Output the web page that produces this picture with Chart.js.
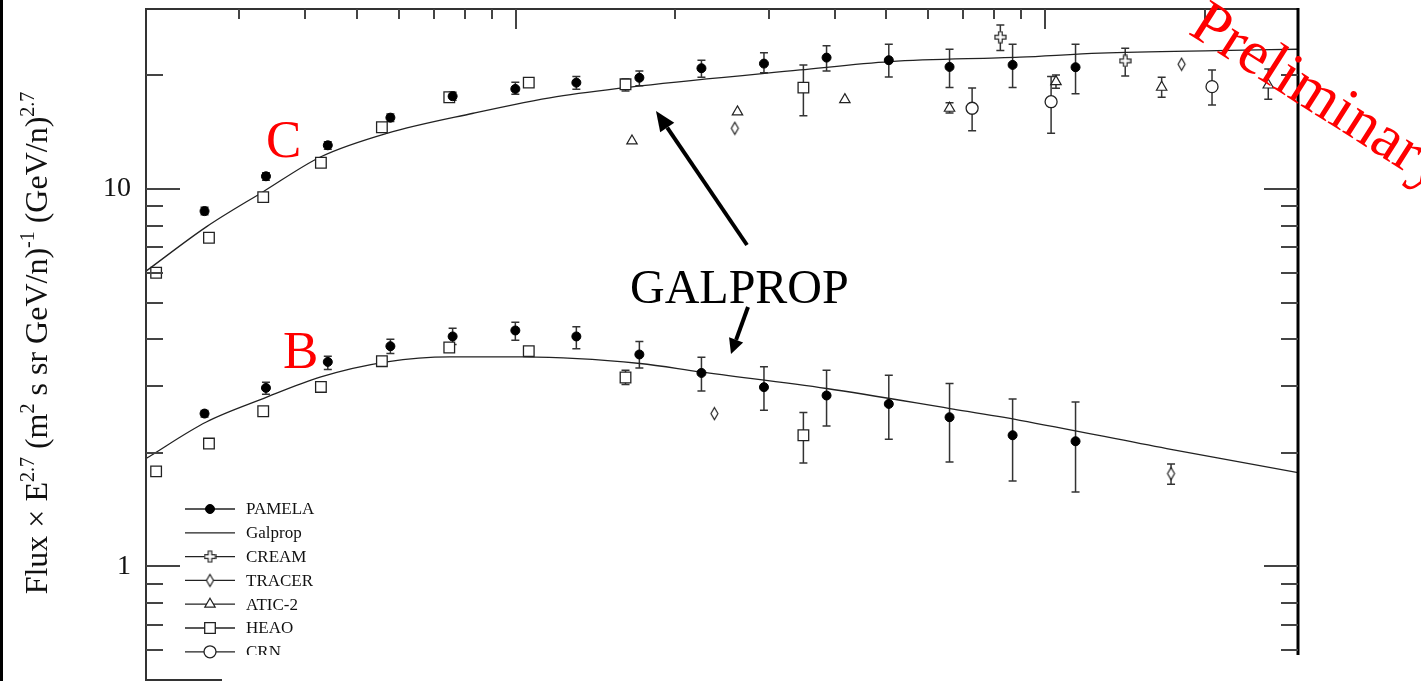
<!DOCTYPE html>
<html>
<head>
<meta charset="utf-8">
<script src="https://cdn.jsdelivr.net/npm/chart.js@4.4.0/dist/chart.umd.min.js"></script>
<style>
  html, body { margin: 0; padding: 0; background: #fff; }
  #wrap { position: relative; width: 1421px; height: 681px; }
</style>
</head>
<body>
<div id="wrap"><canvas id="chart"></canvas></div>
<script>
// kinetic energy in GeV/n, values are Flux x E^2.7
const pamelaE = [2.58, 3.37, 4.41, 5.79, 7.59, 9.97, 13.0, 17.1, 22.4, 29.4, 38.6, 50.6, 65.9, 86.7, 114];
const pamelaC = [8.74, 10.81, 13.06, 15.46, 17.62, 18.42, 19.14, 19.72, 20.90, 21.50, 22.30, 21.95, 21.07, 21.33, 21.03];
const pamelaCLo = [8.55, 10.55, 12.75, 15.1, 17.2, 17.83, 18.39, 18.79, 19.79, 20.34, 20.56, 19.82, 18.57, 18.57, 17.89];
const pamelaCHi = [8.95, 11.05, 13.35, 15.8, 18.05, 19.19, 19.86, 20.56, 21.95, 22.98, 23.99, 24.20, 23.47, 24.20, 24.20];
const pamelaB = [2.541, 2.972, 3.483, 3.833, 4.068, 4.219, 4.068, 3.644, 3.256, 2.985, 2.837, 2.695, 2.485, 2.226, 2.146];
const pamelaBLo = [2.49, 2.858, 3.325, 3.666, 3.874, 3.977, 3.771, 3.357, 2.917, 2.593, 2.356, 2.172, 1.891, 1.684, 1.575];
const pamelaBHi = [2.59, 3.076, 3.606, 4.001, 4.279, 4.438, 4.313, 3.945, 3.584, 3.379, 3.311, 3.212, 3.052, 2.778, 2.728];

const heaoE = [2.09, 2.63, 3.33, 4.28, 5.58, 7.48, 10.57, 16.1, 34.9];
const heaoC = [6.00, 7.43, 9.52, 11.74, 14.58, 17.51, 19.14, 18.95, 18.57];
const heaoCLo = [null, null, null, null, null, null, null, 18.2, 15.64];
const heaoCHi = [null, null, null, null, null, null, null, 19.58, 21.33];
const heaoB = [1.786, 2.116, 2.577, 2.989, 3.498, 3.803, 3.718, 3.167, 2.226];
const heaoBLo = [null, null, null, null, null, null, null, 3.034, 1.879];
const heaoBHi = [null, null, null, null, null, null, null, 3.311, 2.557];

const aticE = [16.56, 26.2, 41.8, 65.9, 104.7, 165.8, 263.6];
const aticC = [13.41, 16.01, 17.26, 16.37, 19.26, 18.61, 18.87];
const aticCLo = [null, null, null, 15.9, 18.50, 17.51, 17.30];
const aticCHi = [null, null, null, 16.94, 20.06, 19.79, 20.81];

const tracerCE = [25.9, 180.8];
const tracerC = [14.49, 21.42];
const tracerBE = [23.7, 172.7];
const tracerB = [2.541, 1.762];
const tracerBLo = [null, 1.650];
const tracerBHi = [null, 1.868];

const creamE = [82.2, 141.5];
const creamC = [25.26, 21.86];
const creamCLo = [23.28, 19.94];
const creamCHi = [27.19, 23.61];

const crnE = [72.7, 102.5, 206.4];
const crnC = [16.37, 17.04, 18.68];
const crnCLo = [14.28, 14.05, 16.71];
const crnCHi = [18.53, 19.86, 20.68];

const galpropCE = [2, 2.6, 3.33, 4.28, 5.7, 8.3, 11.94, 17.15, 34.4, 50.9, 89.5, 126.8, 210.7, 300];
const galpropC = [6.06, 7.94, 9.84, 12.18, 14.05, 15.88, 17.58, 18.76, 20.68, 21.77, 22.36, 22.91, 23.28, 23.47];
const galpropBE = [2, 2.6, 3.33, 4.28, 5.7, 7.5, 10.32, 17.15, 22.25, 38.6, 66, 89.5, 169.5, 300];
const galpropB = [1.931, 2.414, 2.785, 3.178, 3.483, 3.591, 3.591, 3.449, 3.276, 2.961, 2.620, 2.439, 2.052, 1.772];

const legendNames = ['PAMELA', 'Galprop', 'CREAM', 'TRACER', 'ATIC-2', 'HEAO', 'CRN'];
const yLabelTicks = [1, 10];
const yMinorTicks = [0.6, 0.7, 0.8, 0.9, 2, 3, 4, 5, 6, 7, 8, 9, 20];
const xMajorTicks = [10, 100];
const xMinorTicks = [3, 4, 5, 6, 7, 8, 9, 20, 30, 40, 50, 60, 70, 80, 90, 200];

const FONT = "'Liberation Serif', 'Times New Roman', serif";
const INK = '#222';

function xy(xs, ys) { return xs.map((x, i) => ({ x: x, y: ys[i] })); }

function makeDiamond() {
  const c = document.createElement('canvas');
  c.width = 11; c.height = 15;
  const g = c.getContext('2d');
  g.beginPath();
  g.moveTo(5.5, 1.5); g.lineTo(9, 7.5); g.lineTo(5.5, 13.5); g.lineTo(2, 7.5);
  g.closePath();
  g.fillStyle = '#fff'; g.fill();
  g.lineWidth = 1.2; g.strokeStyle = INK; g.stroke();
  return c;
}

function makeCross() {
  const c = document.createElement('canvas');
  c.width = 13; c.height = 13;
  const g = c.getContext('2d');
  const m = 6.5, a = 1.8, lo = 1, hi = 12;
  g.beginPath();
  g.moveTo(m - a, lo); g.lineTo(m + a, lo); g.lineTo(m + a, m - a); g.lineTo(hi, m - a);
  g.lineTo(hi, m + a); g.lineTo(m + a, m + a); g.lineTo(m + a, hi); g.lineTo(m - a, hi);
  g.lineTo(m - a, m + a); g.lineTo(lo, m + a); g.lineTo(lo, m - a); g.lineTo(m - a, m - a);
  g.closePath();
  g.fillStyle = '#fff'; g.fill();
  g.lineWidth = 1.2; g.strokeStyle = INK; g.stroke();
  return c;
}

const diamond = makeDiamond();
const cross = makeCross();

const STYLE = {
  'PAMELA': { pointStyle: 'circle', pointRadius: 4.5, backgroundColor: '#000', borderColor: '#000', borderWidth: 1 },
  'CREAM': { pointStyle: cross, pointRadius: 6, backgroundColor: '#fff', borderColor: INK, borderWidth: 1.2 },
  'TRACER': { pointStyle: diamond, pointRadius: 6, backgroundColor: '#fff', borderColor: INK, borderWidth: 1.2 },
  'ATIC-2': { pointStyle: 'triangle', pointRadius: 6, backgroundColor: '#fff', borderColor: INK, borderWidth: 1.2 },
  'HEAO': { pointStyle: 'rect', pointRadius: 7.5, backgroundColor: '#fff', borderColor: INK, borderWidth: 1.3 },
  'CRN': { pointStyle: 'circle', pointRadius: 6, backgroundColor: '#fff', borderColor: INK, borderWidth: 1.3 },
};

function points(label, xs, ys, lo, hi) {
  return Object.assign({ label: label, data: xy(xs, ys), showLine: false, errLo: lo, errHi: hi }, STYLE[label]);
}

function curve(xs, ys) {
  return {
    label: 'Galprop', data: xy(xs, ys), showLine: true, pointRadius: 0,
    borderColor: INK, borderWidth: 1.3, cubicInterpolationMode: 'monotone'
  };
}

const datasets = [
  points('PAMELA', pamelaE, pamelaC, pamelaCLo, pamelaCHi),
  points('PAMELA', pamelaE, pamelaB, pamelaBLo, pamelaBHi),
  points('CREAM', creamE, creamC, creamCLo, creamCHi),
  points('TRACER', tracerCE, tracerC, null, null),
  points('TRACER', tracerBE, tracerB, tracerBLo, tracerBHi),
  points('ATIC-2', aticE, aticC, aticCLo, aticCHi),
  points('HEAO', heaoE, heaoC, heaoCLo, heaoCHi),
  points('HEAO', heaoE, heaoB, heaoBLo, heaoBHi),
  points('CRN', crnE, crnC, crnCLo, crnCHi),
  curve(galpropCE, galpropC),
  curve(galpropBE, galpropB),
];

const errorBars = {
  id: 'errorBars',
  beforeDatasetsDraw(chart) {
    const { ctx, scales: { x, y } } = chart;
    ctx.save();
    ctx.strokeStyle = '#333';
    ctx.lineWidth = 1.5;
    chart.data.datasets.forEach(ds => {
      if (!ds.errLo) return;
      ds.data.forEach((p, i) => {
        const lo = ds.errLo[i], hi = ds.errHi[i];
        if (lo == null || hi == null) return;
        const px = x.getPixelForValue(p.x);
        const y1 = y.getPixelForValue(lo), y2 = y.getPixelForValue(hi);
        ctx.beginPath();
        ctx.moveTo(px, y1); ctx.lineTo(px, y2);
        ctx.moveTo(px - 4, y1); ctx.lineTo(px + 4, y1);
        ctx.moveTo(px - 4, y2); ctx.lineTo(px + 4, y2);
        ctx.stroke();
      });
    });
    ctx.restore();
  }
};

function arrow(ctx, x1, y1, x2, y2, lw, hl, hw) {
  const a = Math.atan2(y2 - y1, x2 - x1);
  const bx = x2 - Math.cos(a) * hl, by = y2 - Math.sin(a) * hl;
  ctx.beginPath();
  ctx.lineWidth = lw;
  ctx.moveTo(x1, y1); ctx.lineTo(bx, by);
  ctx.stroke();
  ctx.beginPath();
  ctx.moveTo(x2, y2);
  ctx.lineTo(bx + Math.sin(a) * hw / 2, by - Math.cos(a) * hw / 2);
  ctx.lineTo(bx - Math.sin(a) * hw / 2, by + Math.cos(a) * hw / 2);
  ctx.closePath();
  ctx.fill();
}

function noPadding(s) {
  s.paddingTop = 0; s.paddingBottom = 0; s.paddingLeft = 0; s.paddingRight = 0;
}

const decorations = {
  id: 'decorations',
  afterDraw(chart) {
    const { ctx, chartArea: ca, scales: { x, y } } = chart;
    ctx.save();

    // frame
    ctx.strokeStyle = '#333';
    ctx.lineWidth = 2;
    ctx.beginPath();
    ctx.moveTo(ca.left, chart.height); ctx.lineTo(ca.left, ca.top); ctx.lineTo(ca.right, ca.top);
    ctx.moveTo(ca.left, ca.bottom); ctx.lineTo(ca.right, ca.bottom);
    ctx.stroke();
    ctx.strokeStyle = '#000';
    ctx.lineWidth = 3;
    ctx.beginPath();
    ctx.moveTo(ca.right, ca.top - 1); ctx.lineTo(ca.right, ca.bottom);
    ctx.stroke();

    // inward ticks
    ctx.strokeStyle = '#444';
    ctx.lineWidth = 2;
    ctx.beginPath();
    const yTick = (v, len) => {
      const py = Math.round(y.getPixelForValue(v));
      ctx.moveTo(ca.left, py); ctx.lineTo(ca.left + len, py);
      ctx.moveTo(ca.right, py); ctx.lineTo(ca.right - len, py);
    };
    yMinorTicks.forEach(v => yTick(v, 17));
    yLabelTicks.forEach(v => yTick(v, 34));
    const xTick = (v, len) => {
      const px = Math.round(x.getPixelForValue(v));
      ctx.moveTo(px, ca.top); ctx.lineTo(px, ca.top + len);
    };
    xMinorTicks.forEach(v => xTick(v, 10));
    xMajorTicks.forEach(v => xTick(v, 20));
    ctx.stroke();

    // y axis title with superscripts
    const runs = [['Flux \u00d7 E', 0], ['2.7', 1], [' (m', 0], ['2', 1], [' s sr GeV/n)', 0], ['-1', 1], [' (GeV/n)', 0], ['2.7', 1]];
    const big = '32px ' + FONT, small = '20px ' + FONT;
    let total = 0;
    runs.forEach(r => { ctx.font = r[1] ? small : big; total += ctx.measureText(r[0]).width; });
    ctx.save();
    ctx.translate(47, 343);
    ctx.rotate(-Math.PI / 2);
    ctx.fillStyle = '#111';
    ctx.textBaseline = 'alphabetic';
    let cx = -total / 2;
    runs.forEach(r => {
      ctx.font = r[1] ? small : big;
      ctx.fillText(r[0], cx, r[1] ? -13 : 0);
      cx += ctx.measureText(r[0]).width;
    });
    ctx.restore();

    // legend
    ctx.font = '17px ' + FONT;
    ctx.textBaseline = 'middle';
    legendNames.forEach((name, i) => {
      const ly = 509 + i * 23.8;
      ctx.strokeStyle = INK;
      ctx.lineWidth = 1.3;
      ctx.beginPath(); ctx.moveTo(185, ly); ctx.lineTo(235, ly); ctx.stroke();
      const st = STYLE[name];
      if (st) {
        ctx.fillStyle = st.backgroundColor;
        ctx.strokeStyle = st.borderColor;
        ctx.lineWidth = st.borderWidth;
        Chart.helpers.drawPoint(ctx, { pointStyle: st.pointStyle, radius: st.pointRadius, borderWidth: st.borderWidth, rotation: 0 }, 210, ly);
      }
      ctx.fillStyle = '#111';
      ctx.fillText(name, 246, ly + 1);
    });

    // annotations
    ctx.textBaseline = 'alphabetic';
    ctx.fillStyle = '#ff0000';
    ctx.font = '53px ' + FONT;
    ctx.fillText('C', 266, 157);
    ctx.fillText('B', 283, 368);
    ctx.fillStyle = '#000';
    ctx.font = '48px ' + FONT;
    ctx.fillText('GALPROP', 630, 303);
    ctx.strokeStyle = '#000';
    arrow(ctx, 747, 245, 656, 111, 4, 20, 17);
    arrow(ctx, 748, 307, 731, 354, 4, 15, 15);

    // cover the cut-off bottom strip
    ctx.fillStyle = '#fff';
    ctx.fillRect(222, 655, chart.width - 222, chart.height - 655);

    ctx.save();
    ctx.translate(1187, 33);
    ctx.rotate(32.5 * Math.PI / 180);
    ctx.fillStyle = '#ff0000';
    ctx.font = '62px ' + FONT;
    ctx.fillText('Preliminary', 0, 0);
    ctx.restore();

    ctx.fillStyle = '#000';
    ctx.fillRect(0, 0, 3, chart.height);
    ctx.restore();
  }
};

new Chart(document.getElementById('chart'), {
  type: 'scatter',
  data: { datasets: datasets },
  options: {
    responsive: true,
    maintainAspectRatio: false,
    animation: false,
    devicePixelRatio: 1,
    layout: { autoPadding: false, padding: { top: 9, bottom: 1, left: 0, right: 123 } },
    plugins: { legend: { display: false }, tooltip: { enabled: false } },
    scales: {
      x: {
        type: 'logarithmic', min: 2, max: 300, display: false,
        ticks: { display: false },
        afterFit: s => { s.height = 0; noPadding(s); }
      },
      y: {
        type: 'logarithmic', min: 0.5, max: 30, position: 'left',
        afterBuildTicks: s => { s.ticks = yLabelTicks.map(v => ({ value: v })); },
        afterFit: s => { s.width = 146; noPadding(s); },
        ticks: { callback: v => String(v), font: { family: FONT, size: 28 }, color: '#111', padding: 15 },
        grid: { display: false, drawTicks: false },
        border: { display: false }
      }
    }
  },
  plugins: [errorBars, decorations]
});
</script>
</body>
</html>
